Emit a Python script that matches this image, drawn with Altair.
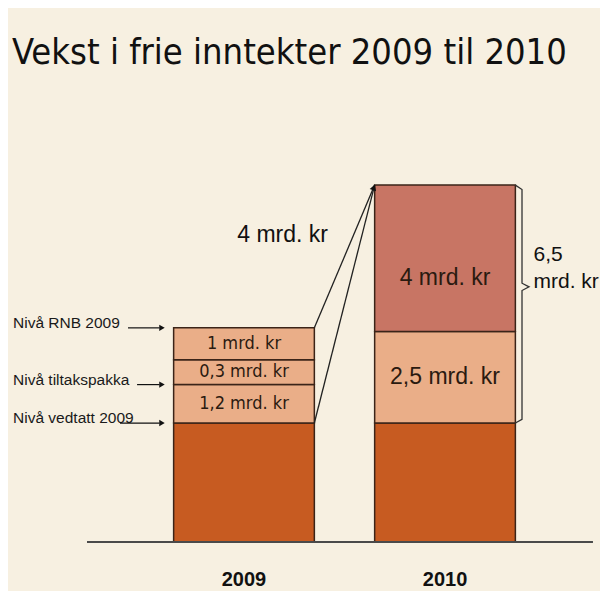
import altair as alt
import pandas as pd

# ---------------- data ----------------
title_text = "Vekst i frie inntekter 2009 til 2010"
years = [2009, 2010]
year_labels = ["2009", "2010"]

base_drawn = 3.25                                   # unlabeled base level ("Nivå vedtatt 2009"), as drawn
seg2009_labels = ["1,2 mrd. kr", "0,3 mrd. kr", "1 mrd. kr"]
seg2009_drawn = [1.05, 0.68, 0.87]                  # segment heights as drawn in the picture
seg2010_labels = ["2,5 mrd. kr", "4 mrd. kr"]
seg2010_values = [2.5, 4.0]

level_labels = ["Nivå vedtatt 2009", "Nivå tiltakspakka", "Nivå RNB 2009"]
arrow_start = [2008.383, 2008.468, 2008.423]        # where each level arrow begins

growth_label = "4 mrd. kr"
total_label = ["6,5", "mrd. kr"]

# ---------------- styling ----------------
BG = "#f7f0e1"
C_BASE = "#c75b21"
C_PEACH = "#eaae88"
C_ROSE = "#c87564"
EDGE = "#3b2418"
SANS = "Liberation Sans, Arial, sans-serif"
COND = "DejaVu Sans Condensed, DejaVu Sans, sans-serif"
HALF = 0.35

xs = alt.Scale(domain=[2007.826, 2010.771], nice=False, zero=False)
ys = alt.Scale(domain=[-1.339, 12.54], nice=False, zero=False)

# ---------------- build tables ----------------
bars = []
for yr in years:
    bars.append(dict(year=yr, y0=0.0, y1=base_drawn, kind="base", label=""))
cum = base_drawn
for lab, h in zip(seg2009_labels, seg2009_drawn):
    bars.append(dict(year=2009, y0=cum, y1=cum + h, kind="peach", label=lab))
    cum += h
top2009 = cum
cum = base_drawn
for lab, v, k in zip(seg2010_labels, seg2010_values, ["peach", "rose"]):
    bars.append(dict(year=2010, y0=cum, y1=cum + v, kind=k, label=lab))
    cum += v
top2010 = cum
bars = pd.DataFrame(bars)
bars["xl"] = bars["year"] - HALF
bars["xr"] = bars["year"] + HALF
bars["ym"] = (bars["y0"] + bars["y1"]) / 2

levels = [base_drawn, base_drawn + seg2009_drawn[0], top2009]
lev = pd.DataFrame(dict(label=level_labels, y=levels, xs=arrow_start))
lev["xt"] = 2007.851
lev["xe"] = 2008.58
lev["xh"] = 2008.592

diag = pd.DataFrame(dict(x=[2009 + HALF, 2009 + HALF], y=[top2009, base_drawn],
                         x2=[2010 - HALF, 2010 - HALF], y2=[top2010, top2010]))
head = pd.DataFrame(dict(x=[2010 - HALF - 0.004], y=[top2010 - 0.06]))

bx = 2010 + HALF + 0.033
tip = 2010 + HALF + 0.068
mid = 6.97
brace = pd.DataFrame(dict(
    o=list(range(7)),
    x=[2010 + HALF, bx, bx, tip, bx, bx, 2010 + HALF],
    y=[top2010, top2010 - 0.12, mid + 0.1, mid, mid - 0.1, base_drawn + 0.1, base_drawn],
))

base_line = pd.DataFrame(dict(x=[2008.219], x2=[2010.736], y=[0.0]))
yr_df = pd.DataFrame(dict(x=years, label=year_labels, y=[-1.2, -1.2]))
growth_df = pd.DataFrame(dict(x=[2009.192], y=[8.2], label=[growth_label]))
total_df = pd.DataFrame(dict(x=[2010.44, 2010.44], y=[7.686, 6.94], label=total_label))

# ---------------- layers ----------------
rects = alt.Chart(bars).mark_rect(stroke=EDGE, strokeWidth=1.5).encode(
    x=alt.X("xl:Q", scale=xs, axis=None), x2="xr:Q",
    y=alt.Y("y0:Q", scale=ys, axis=None), y2="y1:Q",
    color=alt.Color("kind:N", scale=alt.Scale(domain=["base", "peach", "rose"],
                                              range=[C_BASE, C_PEACH, C_ROSE]), legend=None),
)

lab09 = alt.Chart(bars).transform_filter("datum.year == 2009 && datum.label != ''").mark_text(
    font=COND, fontSize=18, color="#2a1a10", baseline="middle").encode(
    x=alt.X("year:Q", scale=xs), y=alt.Y("ym:Q", scale=ys), text="label:N")

lab10a = alt.Chart(bars).transform_filter("datum.year == 2010 && datum.kind == 'peach'").mark_text(
    font=SANS, fontSize=23, color="#2a1a10", baseline="middle").encode(
    x=alt.X("year:Q", scale=xs), y=alt.Y("ym:Q", scale=ys), text="label:N")

lab10b = alt.Chart(bars).transform_filter("datum.kind == 'rose'").mark_text(
    font=SANS, fontSize=23, color="#2a1a10", baseline="middle", dy=20).encode(
    x=alt.X("year:Q", scale=xs), y=alt.Y("ym:Q", scale=ys), text="label:N")

baseline_rule = alt.Chart(base_line).mark_rule(color="#4a4a4a", strokeWidth=1.8).encode(
    x=alt.X("x:Q", scale=xs), x2="x2:Q", y=alt.Y("y:Q", scale=ys))

lev_text = alt.Chart(lev).mark_text(font=SANS, fontSize=15.5, color="#1a1a1a",
                                    align="left", baseline="alphabetic").encode(
    x=alt.X("xt:Q", scale=xs), y=alt.Y("y:Q", scale=ys), text="label:N")

lev_line = alt.Chart(lev).mark_rule(color="#111", strokeWidth=1.2).encode(
    x=alt.X("xs:Q", scale=xs), x2="xe:Q", y=alt.Y("y:Q", scale=ys))

lev_head = alt.Chart(lev).mark_point(shape="triangle-right", filled=True, size=40,
                                     color="#111", opacity=1).encode(
    x=alt.X("xh:Q", scale=xs), y=alt.Y("y:Q", scale=ys))

diag_line = alt.Chart(diag).mark_rule(color="#222", strokeWidth=1.3).encode(
    x=alt.X("x:Q", scale=xs), x2="x2:Q", y=alt.Y("y:Q", scale=ys), y2="y2:Q")

diag_head = alt.Chart(head).mark_point(shape="triangle-up", angle=20, filled=True, size=45,
                                       color="#111", opacity=1).encode(
    x=alt.X("x:Q", scale=xs), y=alt.Y("y:Q", scale=ys))

brace_line = alt.Chart(brace).mark_line(color="#333", strokeWidth=1.3).encode(
    x=alt.X("x:Q", scale=xs), y=alt.Y("y:Q", scale=ys), order="o:Q")

growth_text = alt.Chart(growth_df).mark_text(font=SANS, fontSize=23, color="#111",
                                             baseline="alphabetic").encode(
    x=alt.X("x:Q", scale=xs), y=alt.Y("y:Q", scale=ys), text="label:N")

total_text = alt.Chart(total_df).mark_text(font=SANS, fontSize=21, color="#111",
                                           align="left", baseline="alphabetic").encode(
    x=alt.X("x:Q", scale=xs), y=alt.Y("y:Q", scale=ys), text="label:N")

year_text = alt.Chart(yr_df).mark_text(font=SANS, fontSize=20, fontWeight="bold",
                                       color="#111", baseline="alphabetic").encode(
    x=alt.X("x:Q", scale=xs), y=alt.Y("y:Q", scale=ys), text="label:N")

chart = alt.layer(
    rects, baseline_rule, lab09, lab10a, lab10b, lev_text, lev_line, lev_head,
    diag_line, diag_head, brace_line, growth_text, total_text, year_text,
).properties(
    width=592, height=508,
    padding={"top": 75, "left": 0, "right": 0, "bottom": 0},
    autosize=alt.AutoSizeParams(type="none"),
    background=BG,
    title=alt.TitleParams(title_text, anchor="start", font=COND, fontSize=36,
                          fontWeight="normal", color="#111", offset=11, dx=4),
).configure_view(strokeWidth=0)

chart.save("out.html", embed_options={"renderer": "svg", "actions": False})
